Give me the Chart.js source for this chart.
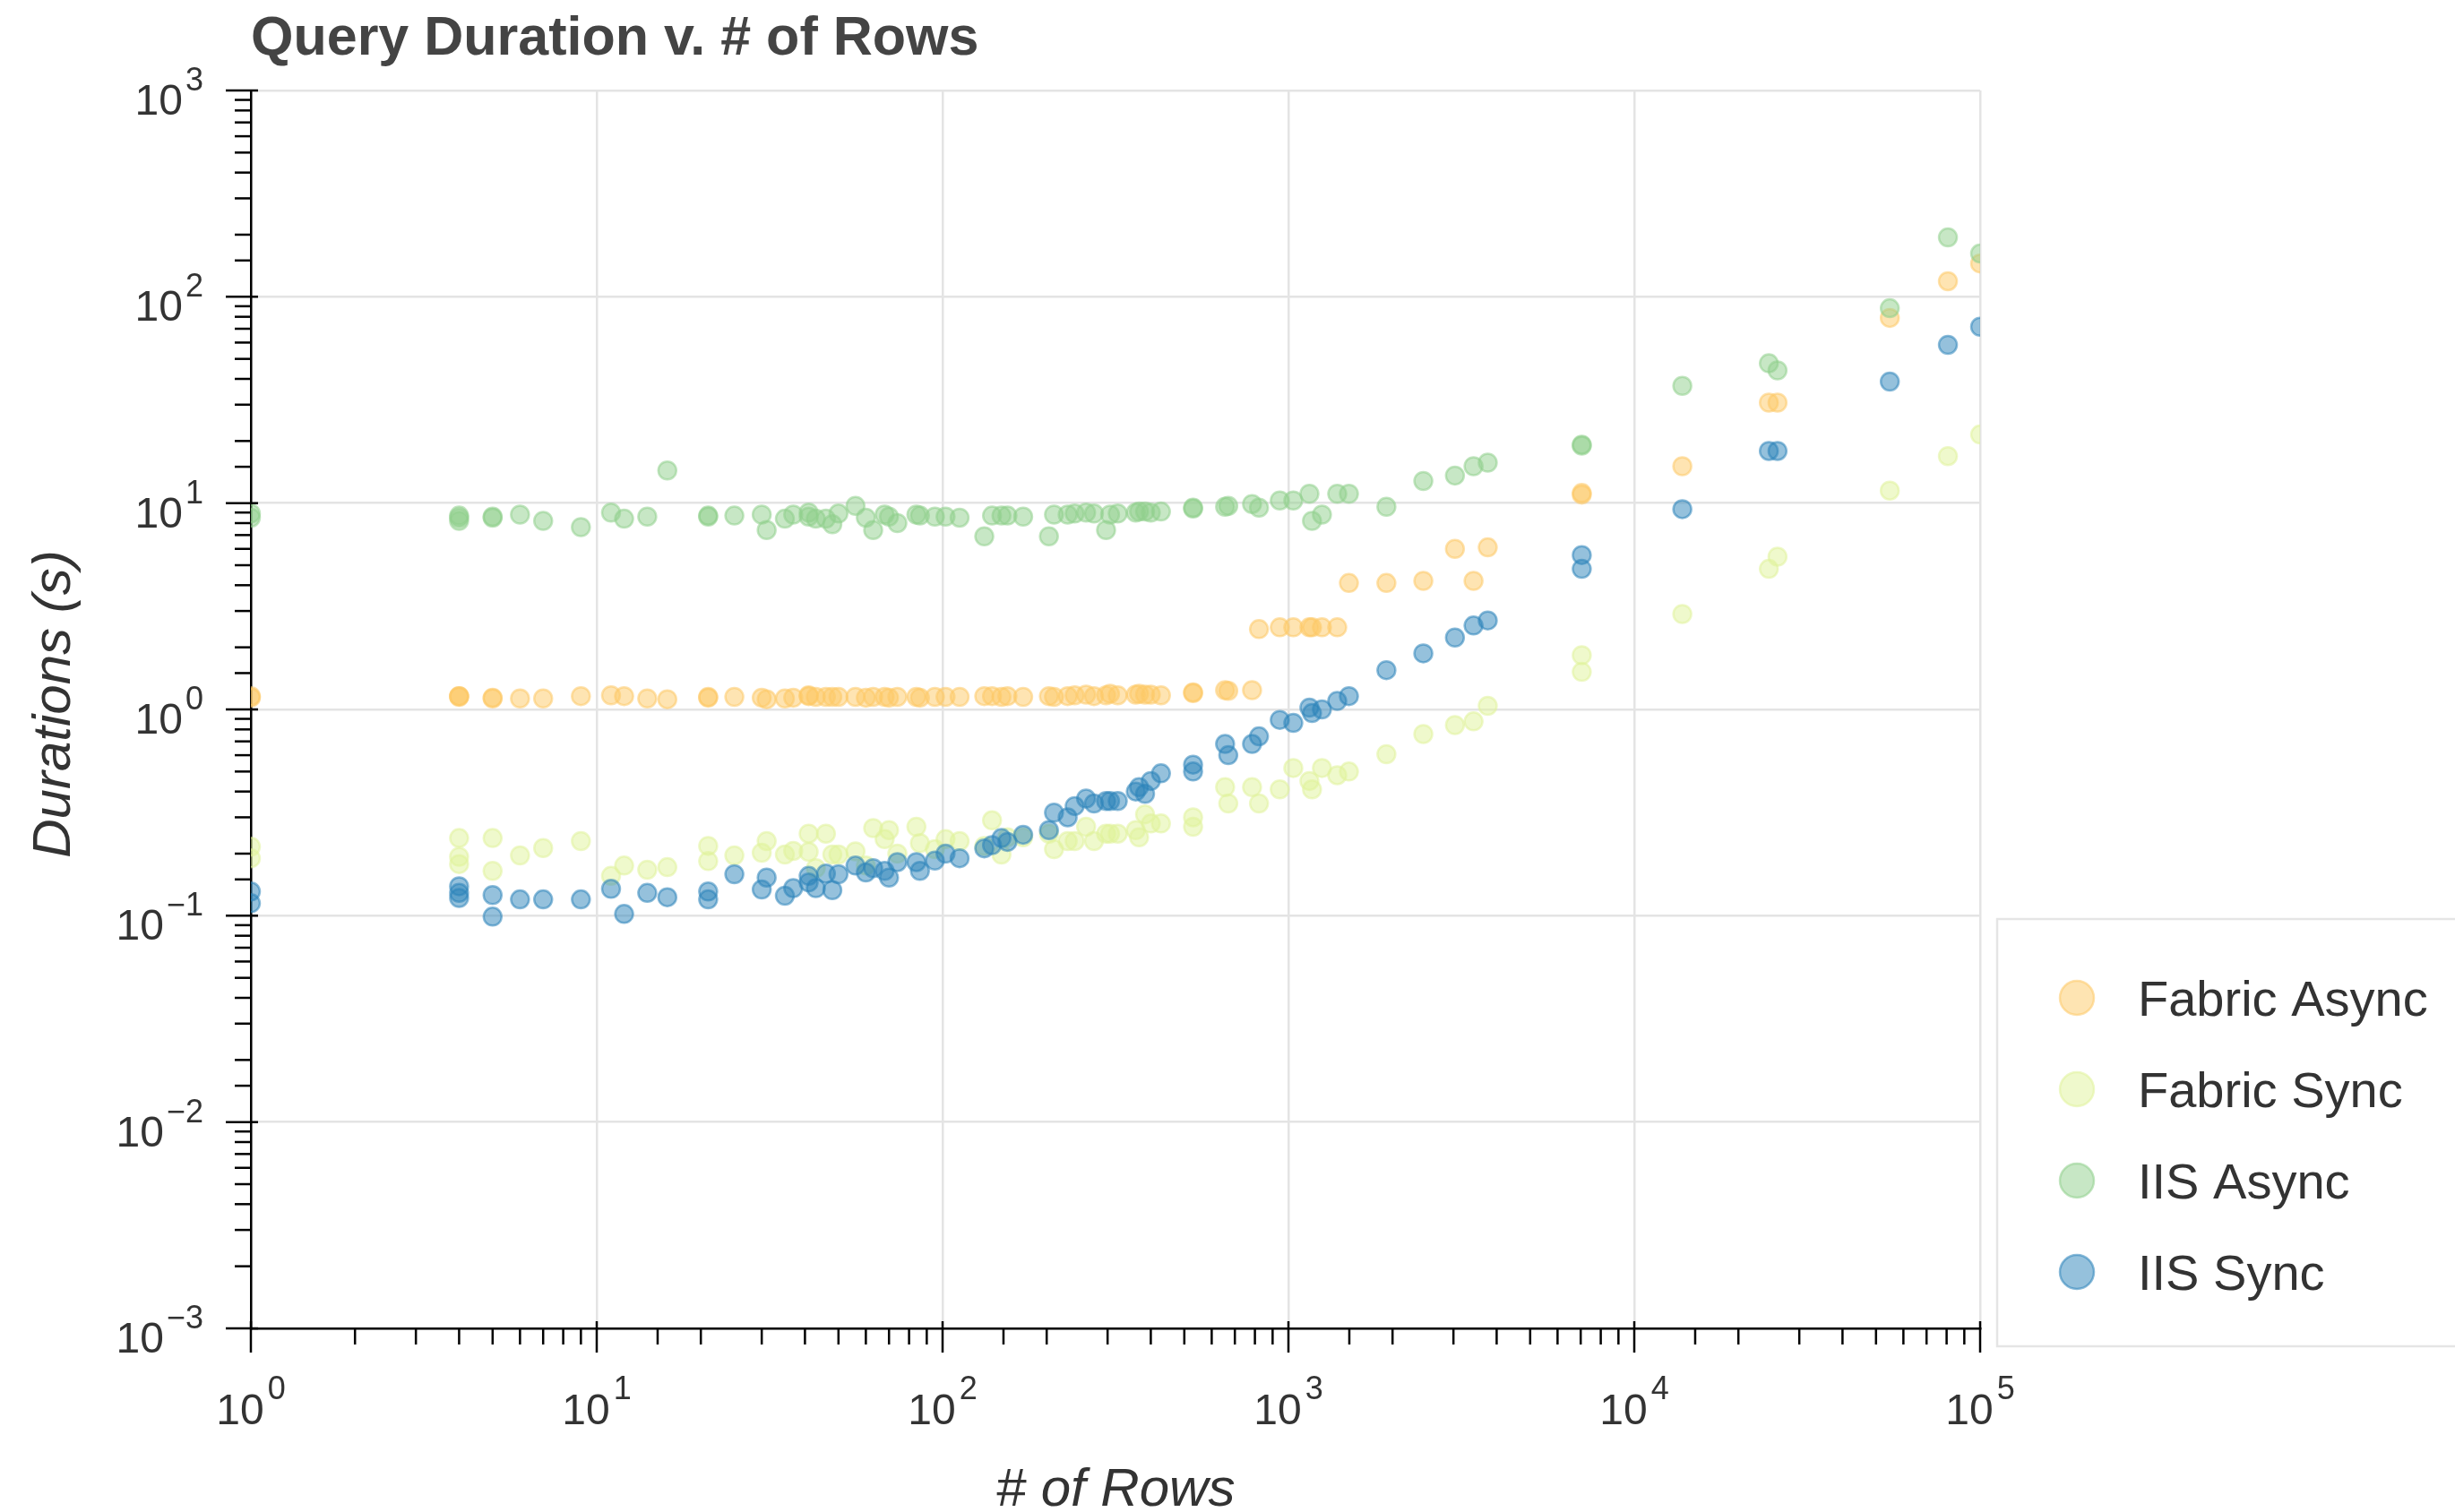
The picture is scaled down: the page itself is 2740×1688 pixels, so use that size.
<!DOCTYPE html>
<html>
<head>
<meta charset="utf-8">
<title>Query Duration v. # of Rows</title>
<script src="https://cdn.jsdelivr.net/npm/chart.js@4/dist/chart.umd.min.js"></script>
<style>
  html, body { margin: 0; padding: 0; background: #fff; }
  #wrap { width: 2740px; height: 1688px; }
</style>
</head>
<body>
<div id="wrap"><canvas id="durationChart" width="2740" height="1688"></canvas></div>
<script>
// query size (# of rows) shared by every run, and the duration in seconds per setup
const rowCounts = [
  1, 1, 4, 4, 4, 5, 5, 6, 7, 9,
  11, 12, 14, 16, 21, 21, 25, 30, 31, 35,
  37, 41, 41, 43, 46, 48, 50, 56, 60, 63,
  68, 70, 74, 84, 86, 95, 102, 112, 132, 139,
  148, 154, 171, 203, 210, 230, 241, 260, 274, 297,
  305, 321, 362, 370, 385, 400, 428, 530, 530, 656,
  670, 785, 822, 944, 1033, 1150, 1170, 1250, 1384, 1496,
  1920, 2455, 3030, 3430, 3770, 7050, 7050, 13770, 24500, 25950,
  54800, 80700, 100000
];
const fabricAsync = [
  1.16, 1.14, 1.16, 1.15, 1.16, 1.13, 1.14, 1.13, 1.13, 1.16,
  1.17, 1.16, 1.13, 1.12, 1.15, 1.14, 1.15, 1.14, 1.12, 1.13,
  1.14, 1.17, 1.16, 1.15, 1.15, 1.15, 1.15, 1.15, 1.14, 1.15,
  1.15, 1.14, 1.15, 1.15, 1.14, 1.15, 1.15, 1.15, 1.16, 1.16,
  1.15, 1.16, 1.15, 1.16, 1.15, 1.16, 1.17, 1.18, 1.16, 1.17,
  1.19, 1.17, 1.18, 1.19, 1.18, 1.18, 1.17, 1.21, 1.2, 1.24,
  1.23, 1.24, 2.45, 2.5, 2.5, 2.5, 2.5, 2.5, 2.5, 4.1,
  4.1, 4.2, 6.0, 4.2, 6.1, 11.2, 11.0, 15.1, 30.7, 30.7,
  79, 119, 145
];
const fabricSync = [
  0.216, 0.19, 0.238, 0.193, 0.178, 0.238, 0.165, 0.196, 0.213, 0.23,
  0.156, 0.175, 0.167, 0.172, 0.218, 0.184, 0.196, 0.202, 0.23, 0.198,
  0.206, 0.25, 0.204, 0.17, 0.25, 0.198, 0.198, 0.205, 0.175, 0.266,
  0.235, 0.26, 0.2, 0.27, 0.225, 0.21, 0.235, 0.23, 0.218, 0.29,
  0.198, 0.24, 0.24, 0.25, 0.21, 0.23, 0.23, 0.27, 0.23, 0.25,
  0.25, 0.25, 0.26, 0.24, 0.31, 0.28, 0.28, 0.3, 0.27, 0.42,
  0.35, 0.42, 0.35, 0.41, 0.52, 0.45, 0.41, 0.52, 0.48, 0.5,
  0.607, 0.76, 0.84, 0.875, 1.04, 1.83, 1.52, 2.9, 4.8, 5.5,
  11.5, 16.9, 21.5
];
const iisAsync = [
  8.5, 8.9, 8.5, 8.2, 8.7, 8.5, 8.6, 8.8, 8.2, 7.65,
  9.0, 8.4, 8.6, 14.4, 8.6, 8.7, 8.7, 8.8, 7.4, 8.4,
  8.8, 9.0, 8.6, 8.4, 8.4, 7.9, 8.9, 9.7, 8.5, 7.4,
  8.8, 8.6, 8.0, 8.8, 8.7, 8.6, 8.6, 8.5, 6.9, 8.7,
  8.7, 8.7, 8.6, 6.9, 8.8, 8.8, 8.9, 9.0, 8.9, 7.4,
  8.8, 8.9, 9.0, 9.1, 9.1, 9.0, 9.1, 9.5, 9.4, 9.6,
  9.7, 9.9, 9.5, 10.3, 10.3, 11.1, 8.2, 8.8, 11.1, 11.1,
  9.6, 12.8, 13.6, 15.1, 15.7, 19.2, 19.0, 37, 47.6, 44,
  88, 194, 162
];
const iisSync = [
  0.131, 0.115, 0.139, 0.129, 0.122, 0.126, 0.099, 0.12, 0.12, 0.12,
  0.135, 0.102, 0.129, 0.123, 0.131, 0.12, 0.159, 0.134, 0.153, 0.125,
  0.136, 0.156, 0.145, 0.136, 0.16, 0.133, 0.159, 0.175, 0.162, 0.17,
  0.165, 0.153, 0.182, 0.182, 0.165, 0.185, 0.2, 0.19, 0.212, 0.22,
  0.238, 0.228, 0.247, 0.26, 0.316, 0.3, 0.34, 0.37, 0.35, 0.36,
  0.36, 0.36, 0.4, 0.42, 0.39, 0.45, 0.49, 0.54, 0.5, 0.68,
  0.6, 0.68, 0.74, 0.89, 0.86, 1.02, 0.96, 1.0, 1.1, 1.16,
  1.55, 1.87, 2.23, 2.55, 2.7, 5.6, 4.8, 9.35, 17.9, 17.9,
  38.8, 58.5, 71.6
];

const seriesNames  = ['Fabric Async', 'Fabric Sync', 'IIS Async', 'IIS Sync'];
const seriesColors = ['#fdc966', '#e0f39a', '#8fd08c', '#2b83ba'];
const seriesValues = [fabricAsync, fabricSync, iisAsync, iisSync];

// decade exponents used for the tick labels (10^k)
const xExponents = [0, 1, 2, 3, 4, 5];
const yExponents = [-3, -2, -1, 0, 1, 2, 3];

const FONT = '"Liberation Sans", Helvetica, Arial, sans-serif';

function rgba(hex, a) {
  const n = parseInt(hex.slice(1), 16);
  return `rgba(${n >> 16},${(n >> 8) & 255},${n & 255},${a})`;
}
function isDecade(v) {
  const l = Math.log10(v);
  return Math.abs(l - Math.round(l)) < 1e-6;
}
function expText(k) {
  return k < 0 ? '\u2212' + Math.abs(k) : String(k);
}

// ticks, tick labels, titles and legend drawn the bokeh way
const decorPlugin = {
  id: 'decor',
  afterDraw(chart) {
    const { ctx, chartArea: a, scales: { x, y } } = chart;
    ctx.save();

    // tick marks
    ctx.strokeStyle = '#000';
    ctx.lineWidth = 2.5;
    y.ticks.forEach(t => {
      const p = y.getPixelForValue(t.value);
      const major = isDecade(t.value);
      ctx.beginPath();
      ctx.moveTo(a.left - (major ? 28 : 18), p);
      ctx.lineTo(a.left + (major ? 8 : 0), p);
      ctx.stroke();
    });
    x.ticks.forEach(t => {
      const p = x.getPixelForValue(t.value);
      const major = isDecade(t.value);
      ctx.beginPath();
      ctx.moveTo(p, a.bottom - (major ? 8 : 0));
      ctx.lineTo(p, a.bottom + (major ? 27 : 18));
      ctx.stroke();
    });

    // tick labels: "10" with a raised exponent
    ctx.fillStyle = '#333';
    ctx.textBaseline = 'alphabetic';
    yExponents.forEach(k => {
      const p = y.getPixelForValue(Math.pow(10, k));
      const right = a.left - 53;
      ctx.font = `36px ${FONT}`;
      ctx.textAlign = 'right';
      const e = expText(k);
      const we = ctx.measureText(e).width;
      ctx.fillText(e, right, p);
      ctx.font = `48px ${FONT}`;
      ctx.fillText('10', right - we - 3, p + 27);
    });
    xExponents.forEach(k => {
      const p = x.getPixelForValue(Math.pow(10, k));
      const e = expText(k);
      ctx.font = `48px ${FONT}`;
      const wb = ctx.measureText('10').width;
      ctx.font = `36px ${FONT}`;
      const we = ctx.measureText(e).width;
      const start = p - (wb + 4 + we) / 2;
      ctx.textAlign = 'left';
      ctx.font = `48px ${FONT}`;
      ctx.fillText('10', start, a.bottom + 107);
      ctx.font = `36px ${FONT}`;
      ctx.fillText(e, start + wb + 4, a.bottom + 79);
    });

    // titles
    ctx.fillStyle = '#444';
    ctx.textAlign = 'left';
    ctx.font = `bold 61px ${FONT}`;
    ctx.fillText('Query Duration v. # of Rows', a.left, 61);

    ctx.fillStyle = '#333';
    ctx.font = `italic 60px ${FONT}`;
    ctx.textAlign = 'center';
    ctx.fillText('# of Rows', (a.left + a.right) / 2, 1681);
    ctx.save();
    ctx.translate(78, (a.top + a.bottom) / 2 - 6);
    ctx.rotate(-Math.PI / 2);
    ctx.fillText('Durations (s)', 0, 0);
    ctx.restore();

    // legend
    ctx.fillStyle = '#fff';
    ctx.fillRect(2229, 1026, 520, 477);
    ctx.strokeStyle = '#e5e5e5';
    ctx.lineWidth = 2.5;
    ctx.strokeRect(2229, 1026, 520, 477);
    seriesNames.forEach((name, i) => {
      const cy = 1114 + i * 102;
      ctx.beginPath();
      ctx.arc(2318, cy, 19, 0, Math.PI * 2);
      ctx.fillStyle = rgba(seriesColors[i], 0.5);
      ctx.fill();
      ctx.strokeStyle = rgba(seriesColors[i], 0.55);
      ctx.lineWidth = 2.5;
      ctx.stroke();
      ctx.fillStyle = '#333';
      ctx.font = `56px ${FONT}`;
      ctx.textAlign = 'left';
      ctx.fillText(name, 2386, cy + 20);
    });

    ctx.restore();
  }
};

const datasets = seriesNames.map((name, i) => ({
  label: name,
  data: rowCounts.map((r, j) => ({ x: r, y: seriesValues[i][j] })),
  backgroundColor: rgba(seriesColors[i], 0.5),
  borderColor: rgba(seriesColors[i], 0.55),
  borderWidth: 2.5,
  pointRadius: 10,
  clip: 0,
  order: seriesNames.length - i
}));

const gridColor = ctx => (ctx.tick && isDecade(ctx.tick.value) ? '#e4e4e4' : 'rgba(0,0,0,0)');

new Chart(document.getElementById('durationChart'), {
  type: 'scatter',
  data: { datasets },
  plugins: [decorPlugin],
  options: {
    responsive: false,
    animation: false,
    devicePixelRatio: 1,
    events: [],
    layout: { padding: { top: 101, right: 530, bottom: 0, left: 0 } },
    plugins: { legend: { display: false }, tooltip: { enabled: false }, title: { display: false } },
    scales: {
      x: {
        type: 'logarithmic',
        position: 'bottom',
        min: 1,
        max: 100000,
        ticks: { display: false },
        grid: { color: gridColor, lineWidth: 2.5, drawTicks: false },
        border: { display: true, color: '#000', width: 2.5 },
        afterFit: s => { s.height = 205; }
      },
      y: {
        type: 'logarithmic',
        position: 'left',
        min: 0.001,
        max: 1000,
        ticks: { display: false },
        grid: { color: gridColor, lineWidth: 2.5, drawTicks: false },
        border: { display: true, color: '#000', width: 2.5 },
        afterFit: s => { s.width = 280; }
      }
    }
  }
});
</script>
</body>
</html>
